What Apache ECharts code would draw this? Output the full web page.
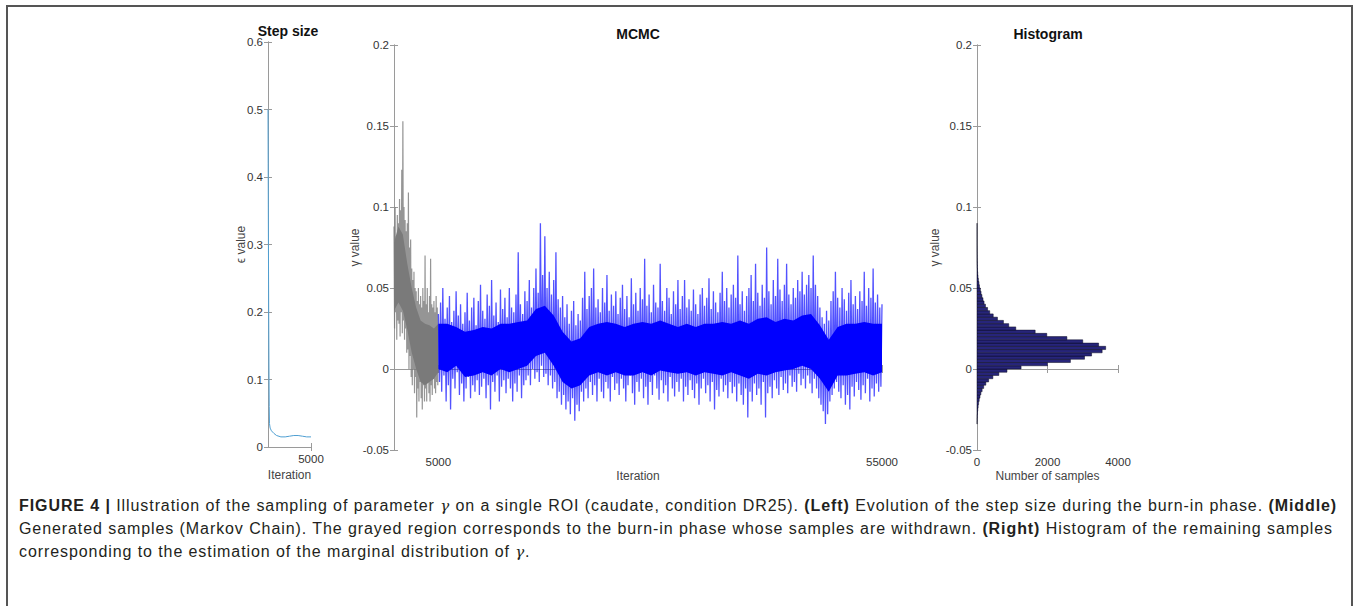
<!DOCTYPE html>
<html><head><meta charset="utf-8">
<script src="https://cdn.jsdelivr.net/npm/echarts@6/dist/echarts.min.js"></script>
<style>
html,body{margin:0;padding:0;background:#fff;}
#wrap{position:relative;width:1358px;height:606px;overflow:hidden;background:#fff;}
#chart{position:absolute;left:0;top:0;width:1358px;height:606px;}
#frame{position:absolute;left:6px;top:5px;width:1347px;height:640px;border:2px solid #555;border-bottom:none;box-sizing:border-box;pointer-events:none;}
.cap{position:absolute;left:19px;height:23px;line-height:23px;font-family:'Liberation Sans',Arial,sans-serif;font-size:16px;color:#231f20;white-space:nowrap;}
.cap b{font-weight:bold;}
.cap i{font-family:'DejaVu Serif','Liberation Serif',serif;font-style:italic;font-size:15px;}
</style></head>
<body><div id="wrap">
<div id="chart"></div>
<div id="frame"></div>
<div class="cap" id="cap1" data-w="1318" style="top:494px"><b>FIGURE 4 |</b> Illustration of the sampling of parameter <i>γ</i> on a single ROI (caudate, condition DR25). <b>(Left)</b> Evolution of the step size during the burn-in phase. <b>(Middle)</b></div>
<div class="cap" id="cap2" data-w="1314" style="top:517px">Generated samples (Markov Chain). The grayed region corresponds to the burn-in phase whose samples are withdrawn. <b>(Right)</b> Histogram of the remaining samples</div>
<div class="cap" id="cap3" style="top:540px">corresponding to the estimation of the marginal distribution of <i>γ</i>.</div>
</div>
<script>
// ---------- Left panel: step size during burn-in ----------
const stepIter = [0, 20, 50, 80, 110, 140, 170, 250, 400, 700, 1000, 1500, 2000, 2500, 3000, 3500, 4000, 4500, 5000];
const stepEps  = [0.5, 0.42, 0.3, 0.2, 0.12, 0.06, 0.035, 0.028, 0.024, 0.02, 0.017, 0.015, 0.015, 0.016, 0.017, 0.017, 0.016, 0.015, 0.015];

// ---------- Middle panel: MCMC trace, burn-in (gray) ----------
const grayPeakIter = []; for (let i = 0; i < 40; i++) grayPeakIter.push(125 * i);
const grayPeak = [0.088,0.1,0.082,0.095, 0.09,0.105,0.098,0.123, 0.153,0.1,0.092,0.085,
  0.09,0.109,0.075,0.08, 0.062,0.055,0.06,0.05, 0.048,0.042,0.05,0.04,
  0.045,0.038,0.05,0.042, 0.07,0.04,0.05,0.035, 0.045,0.068,0.04,0.038, 0.042,0.035,0.045,0.038];
const grayDipIter = []; for (let i = 0; i < 40; i++) grayDipIter.push(62.5 + 125 * i);
const grayDip = [0.025,0.035,0.018,0.03, 0.028,0.02,0.035,0.022, 0.03,0.018,0.025,0.01,
  0.012,0.0,0.008,-0.005, -0.01,0.0,-0.015,-0.005, -0.03,-0.012,-0.02,-0.008,
  -0.018,-0.025,-0.01,-0.02, -0.012,-0.02,-0.008,-0.015, -0.02,-0.01,-0.016,-0.006, -0.012,-0.015,-0.008,-0.01];
const grayCoreIter = [0,500,1000,1500,2000,2500,3000,3500,4000,4500,5000];
const grayCoreHi   = [0.078,0.088,0.083,0.065,0.05,0.038,0.03,0.028,0.027,0.025,0.028];
const grayCoreLo   = [0.036,0.041,0.036,0.024,0.01,0.0,-0.008,-0.01,-0.008,-0.006,-0.002];

// ---------- Middle panel: MCMC trace, kept samples (blue) ----------
const bluePeakIter = []; for (let i = 0; i <= 200; i++) bluePeakIter.push(5000 + 250 * i);
const bluePeak = [
  0.034,0.041,0.05,0.031,0.038,0.045,0.029,0.036,0.048,0.033,
  0.04,0.028,0.035,0.047,0.03,0.038,0.044,0.027,0.042,0.052,
  0.036,0.031,0.046,0.039,0.055,0.033,0.041,0.029,0.049,0.037,
  0.044,0.032,0.05,0.038,0.035,0.046,0.072,0.04,0.034,0.048,
  0.042,0.055,0.038,0.05,0.062,0.047,0.09,0.058,0.082,0.05,
  0.06,0.046,0.055,0.072,0.043,0.038,0.045,0.032,0.04,0.028,
  0.036,0.042,0.027,0.034,0.03,0.044,0.06,0.037,0.045,0.05,
  0.062,0.038,0.043,0.035,0.05,0.041,0.058,0.036,0.046,0.039,
  0.048,0.034,0.044,0.052,0.037,0.045,0.032,0.056,0.04,0.047,
  0.036,0.05,0.043,0.068,0.039,0.046,0.035,0.052,0.041,0.038,
  0.065,0.042,0.036,0.05,0.044,0.034,0.048,0.04,0.055,0.037,
  0.045,0.055,0.038,0.043,0.036,0.049,0.04,0.034,0.046,0.05,
  0.039,0.044,0.056,0.037,0.048,0.041,0.035,0.047,0.06,0.042,
  0.05,0.038,0.046,0.052,0.044,0.07,0.04,0.048,0.036,0.045,
  0.05,0.058,0.042,0.065,0.047,0.039,0.052,0.044,0.075,0.048,
  0.04,0.055,0.045,0.068,0.049,0.042,0.052,0.065,0.046,0.04,
  0.05,0.044,0.055,0.048,0.06,0.046,0.052,0.058,0.05,0.07,
  0.052,0.045,0.038,0.032,0.028,0.036,0.03,0.042,0.048,0.06,
  0.044,0.038,0.05,0.043,0.036,0.047,0.055,0.04,0.045,0.037,
  0.048,0.042,0.06,0.039,0.05,0.044,0.062,0.041,0.046,0.038,
  0.04];
const blueDipIter = []; for (let i = 0; i < 200; i++) blueDipIter.push(5125 + 250 * i);
const blueDip = [
  -0.008,-0.014,-0.004,-0.02,-0.01,-0.025,-0.006,-0.012,-0.002,-0.016,
  -0.009,-0.02,-0.012,-0.005,-0.018,-0.01,-0.014,-0.007,-0.016,-0.011,
  -0.006,-0.018,-0.01,-0.025,-0.008,-0.014,-0.004,-0.02,-0.011,-0.007,
  -0.015,-0.006,-0.012,-0.02,-0.009,-0.014,-0.004,-0.018,-0.01,-0.007,
  -0.004,-0.01,0.0,-0.006,-0.002,-0.008,0.002,-0.005,-0.003,-0.01,
  -0.004,-0.012,-0.008,-0.018,-0.014,-0.022,-0.016,-0.025,-0.02,-0.028,
  -0.018,-0.032,-0.022,-0.026,-0.014,-0.02,-0.012,-0.018,-0.008,-0.016,
  -0.01,-0.02,-0.006,-0.014,-0.018,-0.008,-0.012,-0.02,-0.005,-0.013,
  -0.009,-0.016,-0.006,-0.012,-0.02,-0.01,-0.004,-0.015,-0.022,-0.008,
  -0.014,-0.006,-0.018,-0.011,-0.022,-0.008,-0.016,-0.004,-0.012,-0.019,
  -0.007,-0.015,-0.01,-0.02,-0.005,-0.012,-0.017,-0.008,-0.014,-0.006,
  -0.02,-0.011,-0.016,-0.007,-0.013,-0.018,-0.009,-0.022,-0.012,-0.006,
  -0.015,-0.01,-0.02,-0.008,-0.025,-0.013,-0.017,-0.006,-0.014,-0.01,
  -0.018,-0.008,-0.015,-0.011,-0.02,-0.009,-0.016,-0.022,-0.012,-0.03,
  -0.014,-0.02,-0.009,-0.016,-0.012,-0.022,-0.008,-0.03,-0.015,-0.011,
  -0.018,-0.007,-0.012,-0.016,-0.005,-0.013,-0.009,-0.015,-0.004,-0.011,
  -0.008,-0.014,-0.003,-0.01,-0.006,-0.012,-0.004,-0.009,-0.015,-0.006,
  -0.012,-0.018,-0.022,-0.026,-0.034,-0.028,-0.02,-0.016,-0.012,-0.008,
  -0.014,-0.018,-0.01,-0.022,-0.016,-0.025,-0.011,-0.017,-0.008,-0.013,
  -0.019,-0.01,-0.015,-0.006,-0.02,-0.012,-0.017,-0.009,-0.014,-0.011];
const blueCoreIter = []; for (let i = 0; i <= 50; i++) blueCoreIter.push(5000 + 1000 * i);
const blueCoreHi = [0.028,0.028,0.026,0.023,0.024,0.026,0.025,0.028,0.028,0.029,
  0.03,0.037,0.039,0.033,0.023,0.017,0.019,0.026,0.028,0.029,
  0.028,0.026,0.028,0.029,0.028,0.03,0.028,0.026,0.028,0.026,
  0.028,0.028,0.029,0.028,0.03,0.028,0.031,0.032,0.029,0.031,
  0.03,0.033,0.034,0.027,0.018,0.026,0.028,0.028,0.029,0.028,0.028];
const blueCoreLo = [0.0,-0.002,0.002,-0.005,-0.004,-0.002,-0.004,0.0,-0.002,0.0,
  0.002,0.008,0.01,0.002,-0.008,-0.012,-0.01,-0.004,-0.002,-0.004,
  -0.002,-0.004,-0.004,-0.002,-0.004,-0.001,-0.002,-0.003,-0.002,-0.004,
  -0.002,-0.003,-0.004,-0.002,-0.004,-0.006,-0.003,-0.004,-0.002,-0.001,
  0.0,0.002,0.0,-0.006,-0.014,-0.004,-0.004,-0.003,-0.002,-0.004,-0.002];

// ---------- Right panel: histogram of kept samples ----------
const histBinWidth = 0.002;
const histBinCenter = []; for (let i = 0; i < 62; i++) histBinCenter.push(-0.033 + histBinWidth * i);
const histCount = [3,5,8,14,22,32,45,62,85,110,145,190,250,330,450,620,850,
  1250,2000,2650,3050,3250,3550,3650,3450,3000,2550,1980,1650,1100,
  900,750,580,460,360,300,240,200,170,140,115,95,70,55,40,28,20,14,10,7,
  5,4,3,2,2,1,1,1,1,1,1,1];

// ---------- Axis tick positions ----------
const stepXTicks = [5000];
const mcmcXTicks = [5000, 55000];
const histXTicks = [0, 2000, 4000];

// ---------- build ----------
function zigzag(aIter, a, bIter, b) {
  const out = [];
  for (let i = 0; i < a.length; i++) {
    out.push([aIter[i], a[i]]);
    if (i < b.length) out.push([bIter[i], b[i]]);
  }
  return out;
}
function bandRenderer(xs, lo, hi, color) {
  return function (params, api) {
    const pts = [];
    for (let i = 0; i < xs.length; i++) pts.push(api.coord([xs[i], hi[i]]));
    for (let i = xs.length - 1; i >= 0; i--) pts.push(api.coord([xs[i], lo[i]]));
    return { type: 'polygon', shape: { points: pts }, style: { fill: color } };
  };
}

const AX = '#9a9a9a', LBL = '#333', NAME = '#444';
const FONT = "'Liberation Sans', Arial, sans-serif";
const plain = v => String(v);
function xAx(grid, min, max, ticks, opts) {
  return Object.assign({
    type: 'value', gridIndex: grid, min: min, max: max, position: 'bottom',
    axisLine: { show: true, lineStyle: { color: AX, width: 1 } },
    axisTick: { show: true, inside: true, length: 4, customValues: ticks, lineStyle: { color: AX } },
    axisLabel: { show: true, customValues: ticks, formatter: plain, color: LBL, fontSize: 11.5, fontFamily: FONT, margin: 6, showMinLabel: true, showMaxLabel: true },
    splitLine: { show: false },
    nameLocation: 'middle', nameMoveOverlap: false, nameTextStyle: { color: NAME, fontSize: 12, fontFamily: FONT }
  }, opts || {});
}
function yAx(grid, min, max, interval, opts) {
  return Object.assign({
    type: 'value', gridIndex: grid, min: min, max: max, interval: interval, position: 'left',
    axisLine: { show: true, lineStyle: { color: AX, width: 1 } },
    axisTick: { show: true, inside: true, length: 4, lineStyle: { color: AX } },
    axisLabel: { show: true, color: LBL, fontSize: 11.5, fontFamily: FONT, margin: 5, showMinLabel: true, showMaxLabel: true },
    splitLine: { show: false },
    nameLocation: 'middle', nameRotate: 90, nameMoveOverlap: false, nameTextStyle: { color: NAME, fontSize: 12, fontFamily: FONT }
  }, opts || {});
}
const hideLbl = { axisLabel: { show: false } };

const option = {
  animation: false,
  backgroundColor: '#fff',
  grid: [
    { left: 268, top: 42, width: 43, height: 405 },
    { left: 394, top: 45, width: 488, height: 405 },
    { left: 977, top: 45, width: 141, height: 405 }
  ],
  xAxis: [
    xAx(0, 0, 5000, stepXTicks, { name: 'Iteration', nameGap: 22 }),
    Object.assign(xAx(0, 0, 5000, stepXTicks, { position: 'top' }), hideLbl),
    xAx(1, 0, 55000, mcmcXTicks, { name: 'Iteration', nameGap: 20 }),
    Object.assign(xAx(1, 0, 55000, mcmcXTicks, { position: 'top' }), hideLbl),
    xAx(2, 0, 4000, histXTicks, { name: 'Number of samples', nameGap: 20 }),
    Object.assign(xAx(2, 0, 4000, histXTicks, { position: 'top' }), hideLbl)
  ],
  yAxis: [
    yAx(0, 0, 0.6, 0.1, { name: 'ϵ value', nameGap: 21 }),
    Object.assign(yAx(0, 0, 0.6, 0.1, { position: 'right' }), hideLbl),
    yAx(1, -0.05, 0.2, 0.05, { name: 'γ value', nameGap: 33 }),
    Object.assign(yAx(1, -0.05, 0.2, 0.05, { position: 'right' }), hideLbl),
    yAx(2, -0.05, 0.2, 0.05, { name: 'γ value', nameGap: 36 }),
    Object.assign(yAx(2, -0.05, 0.2, 0.05, { position: 'right' }), hideLbl)
  ],
  graphic: [
    { type: 'text', x: 288, y: 31, style: { text: 'Step size', font: "bold 14px 'Liberation Sans', Arial", fill: '#111', align: 'center', verticalAlign: 'middle' } },
    { type: 'text', x: 638, y: 34, style: { text: 'MCMC', font: "bold 14px 'Liberation Sans', Arial", fill: '#111', align: 'center', verticalAlign: 'middle' } },
    { type: 'text', x: 1048, y: 34, style: { text: 'Histogram', font: "bold 14px 'Liberation Sans', Arial", fill: '#111', align: 'center', verticalAlign: 'middle' } }
  ],
  series: [
    { type: 'line', xAxisIndex: 0, yAxisIndex: 0, data: stepIter.map((x, i) => [x, stepEps[i]]),
      showSymbol: false, lineStyle: { color: '#4f9fd2', width: 1 }, z: 3 },
    { type: 'custom', xAxisIndex: 2, yAxisIndex: 2, data: [[0, 0]],
      renderItem: bandRenderer(grayCoreIter, grayCoreLo, grayCoreHi, '#7a7a7a'), z: 2 },
    { type: 'line', xAxisIndex: 2, yAxisIndex: 2, data: zigzag(grayPeakIter, grayPeak, grayDipIter, grayDip),
      showSymbol: false, lineStyle: { color: '#7a7a7a', width: 1.2, opacity: 0.8 }, z: 3 },
    { type: 'custom', xAxisIndex: 2, yAxisIndex: 2, data: [[0, 0]],
      renderItem: bandRenderer(blueCoreIter, blueCoreLo, blueCoreHi, '#0000ff'), z: 2 },
    { type: 'line', xAxisIndex: 2, yAxisIndex: 2, data: zigzag(bluePeakIter, bluePeak, blueDipIter, blueDip),
      showSymbol: false, lineStyle: { color: '#0000ff', width: 1.3, opacity: 0.68 }, z: 3 },
    { type: 'custom', xAxisIndex: 4, yAxisIndex: 4,
      data: histBinCenter.map((c, i) => [c - histBinWidth / 2, c + histBinWidth / 2, histCount[i]]),
      encode: { x: 2, y: [0, 1] },
      renderItem: function (params, api) {
        const p0 = api.coord([0, api.value(1)]);
        const p1 = api.coord([api.value(2), api.value(0)]);
        return { type: 'rect', shape: { x: p0[0], y: p0[1], width: p1[0] - p0[0], height: p1[1] - p0[1] },
          style: { fill: '#27257a', stroke: '#0a0a1e', lineWidth: 0.5 } };
      }, z: 2 }
  ]
};
const chart = echarts.init(document.getElementById('chart'), null, { renderer: 'svg' });
chart.setOption(option);

// caption: spread line 1 to its width with letter spacing, reuse it, then fit line 2 with word spacing
(function () {
  const c1 = document.getElementById('cap1');
  const n1 = c1.textContent.length;
  let w1 = c1.getBoundingClientRect().width;
  const t1 = parseFloat(c1.dataset.w);
  if (w1 > t1) { c1.parentNode.querySelectorAll('.cap').forEach(el => el.style.fontSize = (16 * t1 / w1).toFixed(2) + 'px'); w1 = c1.getBoundingClientRect().width; }
  const ls = Math.max(0, (t1 - w1) / n1);
  ['cap1', 'cap2', 'cap3'].forEach(function (id) { document.getElementById(id).style.letterSpacing = ls.toFixed(3) + 'px'; });
  const c2 = document.getElementById('cap2');
  const words = c2.textContent.split(' ').length - 1;
  const extra = (parseFloat(c2.dataset.w) - c2.getBoundingClientRect().width) / words;
  c2.style.wordSpacing = extra.toFixed(3) + 'px';
})();
</script>
</body></html>
